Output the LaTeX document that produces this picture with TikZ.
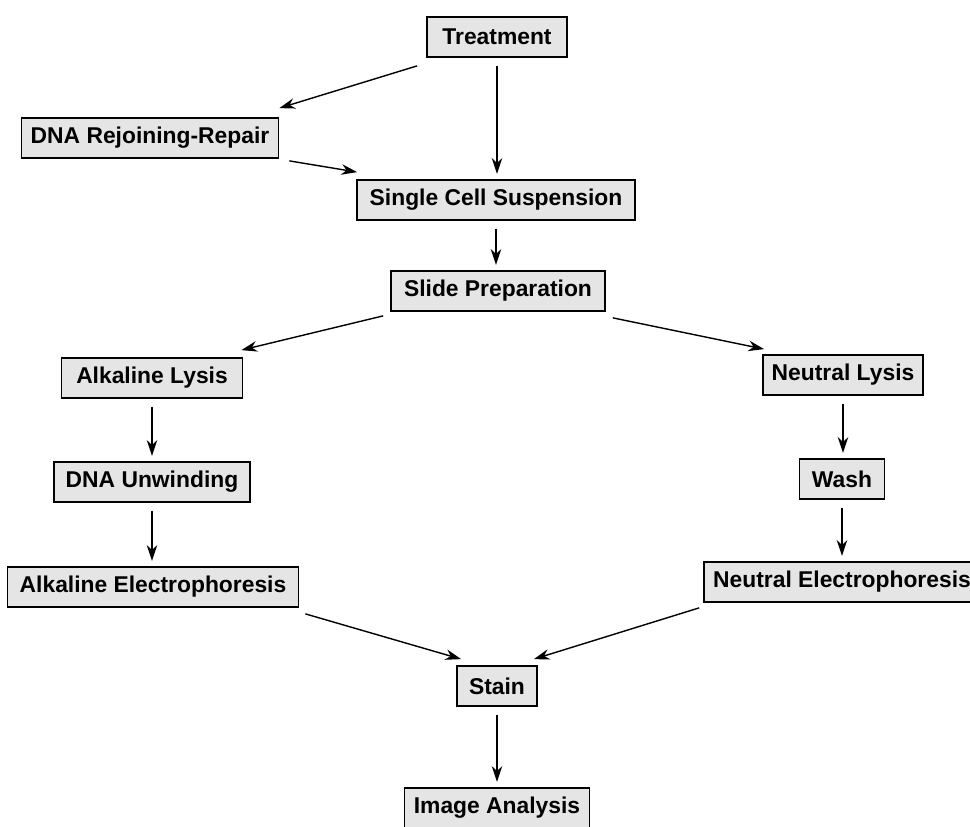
\documentclass[tikz,border=0pt]{standalone}
\usepackage{fontspec}
\setmainfont{Liberation Sans}
\usetikzlibrary{arrows.meta,calc}
\begin{document}
\begin{tikzpicture}[x=0.02cm,y=-0.02cm,
  stepbox/.style={draw=black,line width=1pt,fill=gray!20,
    minimum height=0.8cm,inner xsep=2pt,
    font=\fontsize{13pt}{15pt}\selectfont\bfseries},
  flow/.style={line width=0.8pt,-{Stealth[length=9pt,width=6pt]}},
  vflow/.style={flow,shorten <=4.5pt,shorten >=3pt}]
  \useasboundingbox (0,0) rectangle (970,827);

  % Boxes, top part
  \node[stepbox,minimum width=2.8cm]  (treat) at (497,37)  {Treatment};
  \node[stepbox,minimum width=5.14cm] (rep)   at (150,138) {DNA Rejoining-Repair};
  \node[stepbox,minimum width=5.56cm] (scs)   at (496,200) {Single Cell Suspension};
  \node[stepbox,minimum width=4.28cm] (slide) at (498,291) {Slide Preparation};

  % Alkaline branch
  \node[stepbox,minimum width=3.62cm] (alys) at (152,378) {Alkaline Lysis};
  \node[stepbox,minimum width=3.92cm] (unw)  at (152,482) {DNA Unwinding};
  \node[stepbox,minimum width=5.82cm] (ael)  at (153,587) {Alkaline Electrophoresis};

  % Neutral branch
  \node[stepbox,minimum width=3.2cm]  (nlys) at (843,375) {Neutral Lysis};
  \node[stepbox,minimum width=1.7cm]  (wash) at (842,479) {Wash};
  \node[stepbox,minimum width=5.52cm] (nel)  at (842,582) {Neutral Electrophoresis};

  % Bottom part
  \node[stepbox,minimum width=1.6cm]  (stain) at (497,686) {Stain};
  \node[stepbox,minimum width=3.7cm]  (img)   at (497,808) {Image Analysis};

  % Straight down arrows
  \draw[vflow] (treat.south) -- (treat.south |- scs.north);
  \draw[vflow] (scs.south) -- (scs.south |- slide.north);
  \draw[vflow] (alys.south) -- (alys.south |- unw.north);
  \draw[vflow] (unw.south) -- (unw.south |- ael.north);
  \draw[vflow] (nlys.south) -- (nlys.south |- wash.north);
  \draw[vflow] (wash.south) -- (wash.south |- nel.north);
  \draw[vflow] (stain.south) -- (stain.south |- img.north);

  % Slanted arrows
  \draw[flow] ($(treat.south west)+(-9,8)$) -- ($(rep.north east)+(0,-9)$);
  \draw[flow] ($(rep.south east)+(10,2)$) -- ($(scs.north west)+(1,-7)$);
  \draw[flow] ($(slide.south west)+(-7,4)$) -- ($(alys.north east)+(-2,-7)$);
  \draw[flow] ($(slide.south east)+(7,6)$) -- ($(nlys.north west)+(2,-5)$);
  \draw[flow] ($(ael.south east)+(6,6)$) -- ($(stain.north west)+(5,-6)$);
  \draw[flow] ($(nel.south west)+(-4,5)$) -- ($(stain.north east)+(-4,-6)$);

\end{tikzpicture}
\end{document}
